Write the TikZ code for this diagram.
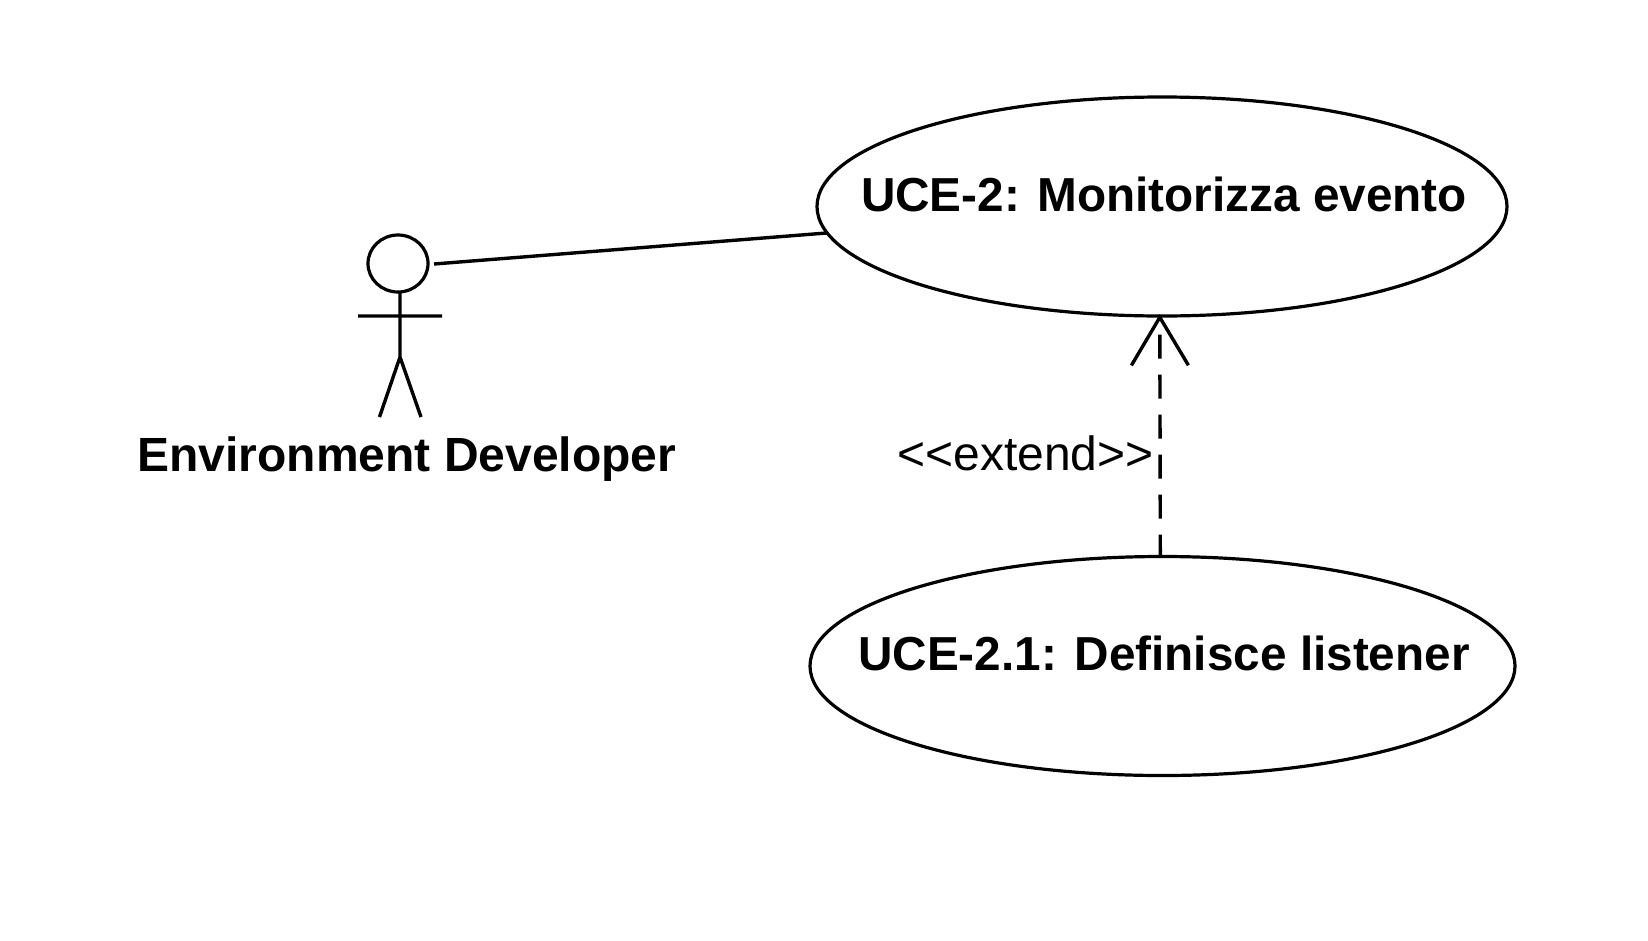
\documentclass[tikz,border=0pt]{standalone}
\usepackage{fontspec}
\setmainfont{Liberation Sans}
\usetikzlibrary{shapes.geometric,arrows.meta}
\tikzset{
  usecase/.style={draw=black,line width=3.2pt,ellipse,inner sep=0pt,outer sep=0pt,minimum width=#1},
  lbl/.style={inner sep=0pt,anchor=base,font=\fontsize{48}{48}\selectfont\bfseries},
  uclbl/.style={inner sep=0pt,anchor=base,font=\fontsize{47.7}{48}\selectfont\bfseries},
  stereo/.style={inner sep=0pt,anchor=base,font=\fontsize{48}{48}\selectfont},
  actorline/.style={draw=black,line width=3.4pt},
  assoc/.style={draw=black,line width=3.4pt},
  extendline/.style={draw=black,line width=3.4pt,dash pattern=on 24pt off 16pt,dash phase=2pt,shorten >=-2pt,
    -{Straight Barb[length=48pt,width=57pt,line width=3.4pt]}}
}
\begin{document}
\begin{tikzpicture}[x=1pt,y=-1pt]
\useasboundingbox[fill=white] (0,0) rectangle (1648,940);
\node[usecase=690pt,minimum height=219pt] (uc2) at (1162,206.5) {};
\node[usecase=705pt,minimum height=219pt] (uc21) at (1162.5,666) {};
\node[uclbl] (uc2t) at (1164,211) {UCE-2: Monitorizza evento};
\node[uclbl] (uc21t) at (1164,670) {UCE-2.1: Definisce listener};
\node[lbl] (actt) at (407,471) {Environment Developer};
\node[stereo] (ext) at (1025.5,470) {<{}<extend>{}>};
\node[usecase=60pt,minimum height=57pt] (head) at (398,263.5) {};
\coordinate (neck) at (400,292);
\coordinate (hip) at (400,357);
\coordinate (armL) at (358,316);
\coordinate (armR) at (442,316);
\coordinate (footL) at (379.5,417);
\coordinate (footR) at (421,417);
\coordinate (assocStart) at (434,264);
\draw[actorline] (neck) -- (hip) (armL) -- (armR) (footL) -- (hip) -- (footR);
\draw[assoc] (assocStart) -- (uc2);
\draw[extendline] ([xshift=-2.2pt]uc21.north) -- ([xshift=-2.2pt]uc2.south);
\end{tikzpicture}
\end{document}
